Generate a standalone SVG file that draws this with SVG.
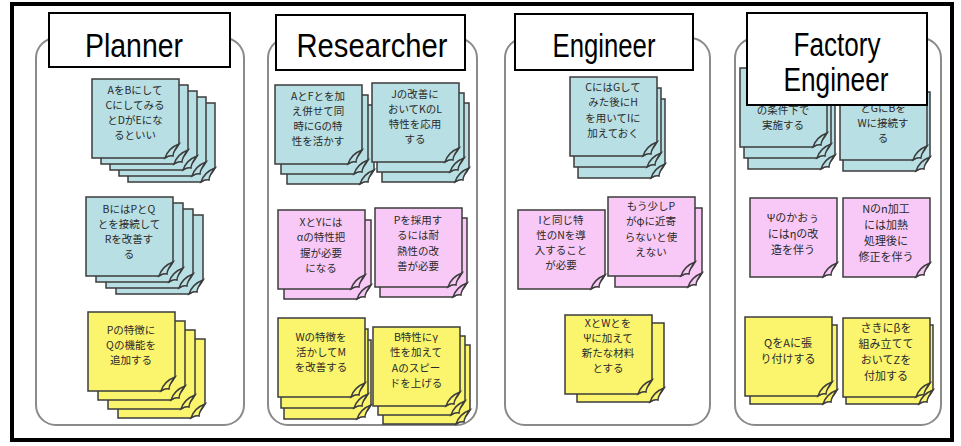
<svg xmlns="http://www.w3.org/2000/svg" xmlns:xlink="http://www.w3.org/1999/xlink" width="961" height="446" viewBox="0 0 961 446">
<style>
.frame{fill:#fff;stroke:#000;stroke-width:4}
.panel{fill:#fff;stroke:#8a8a8a;stroke-width:2}
.label{fill:#fff;stroke:#000;stroke-width:2}
.ltxt{font-family:"Liberation Sans","DejaVu Sans",sans-serif;font-size:33px;fill:#000;text-anchor:middle}
.b{fill:#b8dfe3;stroke:#3c3c3c;stroke-width:1.5}
.p{fill:#f8c9f6;stroke:#3c3c3c;stroke-width:1.5}
.y{fill:#fbf56e;stroke:#3c3c3c;stroke-width:1.5}
.t{font-family:"Noto Sans CJK JP","Noto Sans CJK SC",sans-serif;font-size:10.5px;fill:#2a2a2a;text-anchor:middle}
.t2{font-size:11px}
</style>
<defs>
<g id="note">
<path d="M0,0 H87 V65 C84,71 79,76 73,79 H0 Z"/>
<path d="M73,79 C75,73 79,68 87,65 C83,70 81,73 81,77 C78,76 76,77 73,79 Z"/>
</g>
</defs>
<rect class="frame" x="12" y="4" width="940" height="436"/>

<g id="panel-planner">
<rect class="panel" x="36" y="38" width="208" height="387" rx="20"/>
</g>
<g id="panel-researcher">
<rect class="panel" x="268" y="38" width="209" height="387" rx="20"/>
</g>
<g id="panel-engineer">
<rect class="panel" x="505" y="38" width="205" height="387" rx="20"/>
</g>
<g id="panel-factory">
<rect class="panel" x="735" y="38" width="206" height="387" rx="20"/>
</g>

<g id="planner-note1">
<use xlink:href="#note" class="b" x="128" y="103"/>
<use xlink:href="#note" class="b" x="119" y="97"/>
<use xlink:href="#note" class="b" x="110" y="91"/>
<use xlink:href="#note" class="b" x="101" y="85"/>
<use xlink:href="#note" class="b" x="92" y="79"/>
<text class="t" x="135" y="93.7">AをBにして</text>
<text class="t" x="135" y="108.9">Cにしてみる</text>
<text class="t" x="135" y="124.1">とDがEにな</text>
<text class="t" x="135" y="139.3">るといい</text>
</g>
<g id="planner-note2">
<use xlink:href="#note" class="b" x="116" y="215"/>
<use xlink:href="#note" class="b" x="106" y="209"/>
<use xlink:href="#note" class="b" x="96" y="203"/>
<use xlink:href="#note" class="b" x="86" y="197"/>
<text class="t" x="129" y="212.7">BにはPとQ</text>
<text class="t" x="129" y="227.9">とを接続して</text>
<text class="t" x="129" y="243.1">Rを改善す</text>
<text class="t" x="129" y="258.3">る</text>
</g>
<g id="planner-note3">
<use xlink:href="#note" class="y" x="118" y="339"/>
<use xlink:href="#note" class="y" x="108" y="330"/>
<use xlink:href="#note" class="y" x="98" y="321"/>
<use xlink:href="#note" class="y" x="88" y="312"/>
<text class="t" x="131" y="333.8">Pの特徴に</text>
<text class="t" x="131" y="349">Qの機能を</text>
<text class="t" x="131" y="364.2">追加する</text>
</g>

<g id="researcher-note1">
<use xlink:href="#note" class="b" x="287" y="105"/>
<use xlink:href="#note" class="b" x="281" y="95"/>
<use xlink:href="#note" class="b" x="275" y="85"/>
<text class="t" x="318" y="99.7">AとFとを加</text>
<text class="t" x="318" y="114.9">え併せて同</text>
<text class="t" x="318" y="130.1">時にGの特</text>
<text class="t" x="318" y="145.3">性を活かす</text>
</g>
<g id="researcher-note2">
<use xlink:href="#note" class="b" x="382" y="103"/>
<use xlink:href="#note" class="b" x="377" y="93"/>
<use xlink:href="#note" class="b" x="372" y="83"/>
<text class="t" x="415" y="97.7">Jの改善に</text>
<text class="t" x="415" y="112.9">おいてKのL</text>
<text class="t" x="415" y="128.1">特性を応用</text>
<text class="t" x="415" y="143.3">する</text>
</g>
<g id="researcher-note3">
<use xlink:href="#note" class="p" x="284" y="220"/>
<use xlink:href="#note" class="p" x="278" y="210"/>
<text class="t" x="321" y="226.2">XとYには</text>
<text class="t" x="321" y="241.4">αの特性把</text>
<text class="t" x="321" y="256.6">握が必要</text>
<text class="t" x="321" y="271.8">になる</text>
</g>
<g id="researcher-note4">
<use xlink:href="#note" class="p" x="380" y="218"/>
<use xlink:href="#note" class="p" x="375" y="208"/>
<text class="t" x="418" y="224.2">Pを採用す</text>
<text class="t" x="418" y="239.4">るには耐</text>
<text class="t" x="418" y="254.6">熱性の改</text>
<text class="t" x="418" y="269.8">善が必要</text>
</g>
<g id="researcher-note5">
<use xlink:href="#note" class="y" x="284" y="340"/>
<use xlink:href="#note" class="y" x="281" y="329"/>
<use xlink:href="#note" class="y" x="278" y="318"/>
<text class="t" x="321" y="340.8">Wの特徴を</text>
<text class="t" x="321" y="356">活かしてM</text>
<text class="t" x="321" y="371.2">を改善する</text>
</g>
<g id="researcher-note6">
<use xlink:href="#note" class="y" x="383" y="345"/>
<use xlink:href="#note" class="y" x="378" y="336"/>
<use xlink:href="#note" class="y" x="373" y="327"/>
<text class="t" x="416" y="341.2">B特性にγ</text>
<text class="t" x="416" y="356.4">性を加えて</text>
<text class="t" x="416" y="371.6">Aのスピー</text>
<text class="t" x="416" y="386.8">ドを上げる</text>
</g>

<g id="engineer-note1">
<use xlink:href="#note" class="b" x="578" y="99"/>
<use xlink:href="#note" class="b" x="574" y="88"/>
<use xlink:href="#note" class="b" x="570" y="77"/>
<text class="t" x="613" y="91.2">CにはGして</text>
<text class="t" x="613" y="106.4">みた後にH</text>
<text class="t" x="613" y="121.6">を用いてIに</text>
<text class="t" x="613" y="136.8">加えておく</text>
</g>
<g id="engineer-note2">
<use xlink:href="#note" class="p" x="518" y="210"/>
<text class="t" x="561" y="223.7">Iと同じ特</text>
<text class="t" x="561" y="238.9">性のNを導</text>
<text class="t" x="561" y="254.1">入すること</text>
<text class="t" x="561" y="269.3">が必要</text>
</g>
<g id="engineer-note3">
<use xlink:href="#note" class="p" x="615" y="208"/>
<use xlink:href="#note" class="p" x="608" y="197"/>
<text class="t" x="651" y="210.2">もう少しP</text>
<text class="t" x="651" y="225.4">がφに近寄</text>
<text class="t" x="651" y="240.6">らないと使</text>
<text class="t" x="651" y="255.8">えない</text>
</g>
<g id="engineer-note4">
<use xlink:href="#note" class="y" x="577" y="323"/>
<use xlink:href="#note" class="y" x="565" y="315"/>
<text class="t" x="608" y="326.7">XとWとを</text>
<text class="t" x="608" y="341.9">Ψに加えて</text>
<text class="t" x="608" y="357.1">新たな材料</text>
<text class="t" x="608" y="372.3">とする</text>
</g>

<g id="factory-note1">
<use xlink:href="#note" class="b" x="748" y="90"/>
<use xlink:href="#note" class="b" x="744" y="79"/>
<use xlink:href="#note" class="b" x="740" y="68"/>
<text class="t" x="783" y="114">の条件下で</text>
<text class="t" x="783" y="129.2">実施する</text>
</g>
<g id="factory-note2">
<use xlink:href="#note" class="b" x="843" y="92"/>
<use xlink:href="#note" class="b" x="840" y="81"/>
<text class="t" x="883" y="112">とGにBを</text>
<text class="t" x="883" y="127.2">Wに接続す</text>
<text class="t" x="883" y="142.4">る</text>
</g>
<g id="factory-note3">
<use xlink:href="#note" class="p" x="750" y="198"/>
<text class="t t2" x="793" y="221.5">Ψのかおぅ</text>
<text class="t t2" x="793" y="237.5">にはηの改</text>
<text class="t t2" x="793" y="253.5">造を伴う</text>
</g>
<g id="factory-note4">
<use xlink:href="#note" class="p" x="843" y="198"/>
<text class="t t2" x="886" y="212.5">Nのn加工</text>
<text class="t t2" x="886" y="228.5">には加熱</text>
<text class="t t2" x="886" y="244.5">処理後に</text>
<text class="t t2" x="886" y="260.5">修正を伴う</text>
</g>
<g id="factory-note5">
<use xlink:href="#note" class="y" x="750" y="325"/>
<use xlink:href="#note" class="y" x="745" y="317"/>
<text class="t t2" x="788" y="346.5">QをAに張</text>
<text class="t t2" x="788" y="362.5">り付けする</text>
</g>
<g id="factory-note6">
<use xlink:href="#note" class="y" x="846" y="325"/>
<use xlink:href="#note" class="y" x="843" y="318"/>
<text class="t t2" x="886" y="332">さきにβを</text>
<text class="t t2" x="886" y="348">組み立てて</text>
<text class="t t2" x="886" y="364">おいてZを</text>
<text class="t t2" x="886" y="380">付加する</text>
</g>

<g id="label-planner">
<rect class="label" x="49" y="13" width="181" height="54"/>
<text class="ltxt" x="134" y="57" textLength="98" lengthAdjust="spacingAndGlyphs">Planner</text>
</g>
<g id="label-researcher">
<rect class="label" x="276" y="15" width="189" height="55"/>
<text class="ltxt" x="372" y="57" textLength="151" lengthAdjust="spacingAndGlyphs">Researcher</text>
</g>
<g id="label-engineer">
<rect class="label" x="515" y="14" width="178" height="56"/>
<text class="ltxt" x="604" y="57" textLength="103" lengthAdjust="spacingAndGlyphs">Engineer</text>
</g>
<g id="label-factory">
<rect class="label" x="747" y="13" width="180" height="92"/>
<text class="ltxt" x="837" y="56" textLength="87" lengthAdjust="spacingAndGlyphs">Factory</text>
<text class="ltxt" x="836" y="91" textLength="105" lengthAdjust="spacingAndGlyphs">Engineer</text>
</g>
<g id="connectors"></g>
</svg>
